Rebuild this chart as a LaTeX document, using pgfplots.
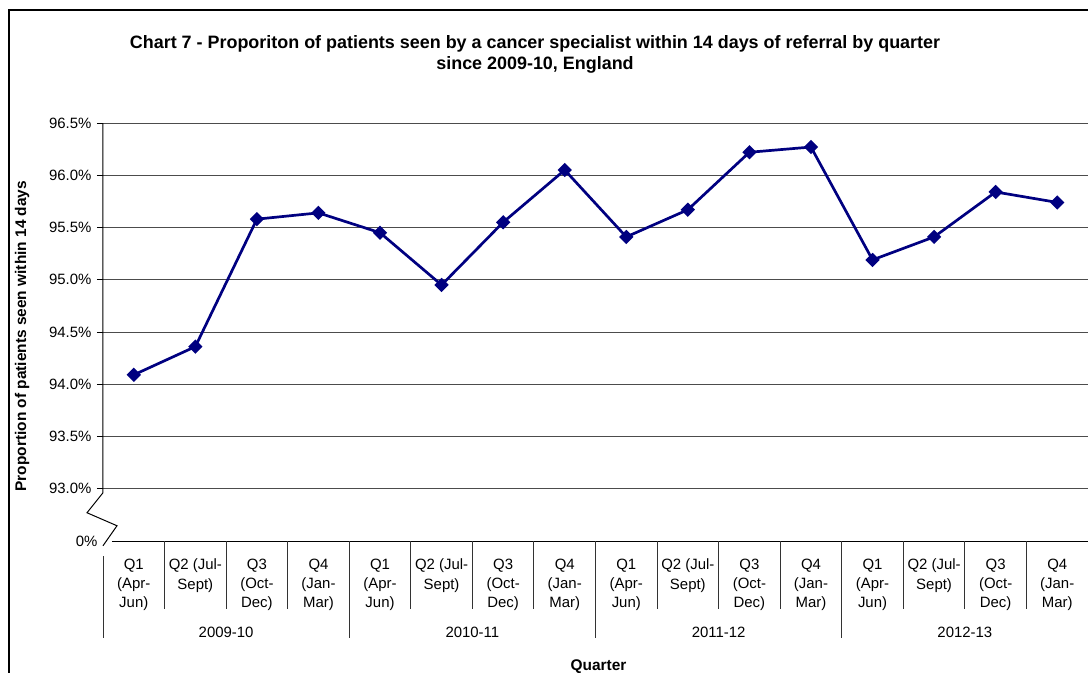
\documentclass[border=0pt]{standalone}
\usepackage{pgfplots}
\pgfplotsset{compat=1.18}
\usepackage{fontspec}
\setmainfont{Liberation Sans}
\definecolor{navy}{RGB}{0,0,128}
\begin{document}
\begin{tikzpicture}
\useasboundingbox (-103bp,-132bp) rectangle (985bp,541bp);
\draw[line width=1.5bp] (-94bp,-140bp) -- (-94bp,531bp) -- (990bp,531bp);
\begin{axis}[
 at={(0bp,0bp)}, anchor=south west,
 scale only axis, width=985bp, height=418bp,
 xmin=0.5, xmax=16.5, ymin=92.5, ymax=96.5,
 clip=false,
 axis line style={draw=none},
 xtick={1,...,16},
 xticklabels={{Q1\\(Apr-\\Jun)},{Q2 (Jul-\\Sept)},{Q3\\(Oct-\\Dec)},{Q4\\(Jan-\\Mar)},
              {Q1\\(Apr-\\Jun)},{Q2 (Jul-\\Sept)},{Q3\\(Oct-\\Dec)},{Q4\\(Jan-\\Mar)},
              {Q1\\(Apr-\\Jun)},{Q2 (Jul-\\Sept)},{Q3\\(Oct-\\Dec)},{Q4\\(Jan-\\Mar)},
              {Q1\\(Apr-\\Jun)},{Q2 (Jul-\\Sept)},{Q3\\(Oct-\\Dec)},{Q4\\(Jan-\\Mar)}},
 xtick style={draw=none},
 xticklabel style={align=center, font=\fontsize{15}{19.3}\selectfont, anchor=north, yshift=-8.5bp},
 ytick={93,93.5,94,94.5,95,95.5,96,96.5},
 yticklabels={93.0\%,93.5\%,94.0\%,94.5\%,95.0\%,95.5\%,96.0\%,96.5\%},
 extra y ticks={92.5}, extra y tick labels={0\%},
 extra y tick style={major tick length=0pt, grid=none},
 yticklabel style={font=\fontsize{15}{17}\selectfont, xshift=-2bp},
 ytick style={black, line width=0.8bp},
 tick align=outside, major tick length=6bp,
 ymajorgrids, grid style={black!70, line width=0.8bp},
 ylabel={Proportion of patients seen within 14 days},
 ylabel style={font=\fontsize{15.5}{17}\selectfont\bfseries, at={(axis description cs:-0.0822,0.49)}, anchor=center},
 xlabel={Quarter},
 xlabel style={font=\fontsize{15.5}{17}\selectfont\bfseries, at={(axis description cs:0.503,0)}, anchor=center, yshift=-126bp},
]
\addplot[navy, line width=2.7bp, mark=square*, mark size=3.7bp, mark options={rotate=45, solid, fill=navy}] coordinates {
(1,94.09) (2,94.36) (3,95.58) (4,95.64) (5,95.45) (6,94.95) (7,95.55) (8,96.05)
(9,95.41) (10,95.67) (11,96.22) (12,96.27) (13,95.19) (14,95.41) (15,95.84) (16,95.74)};
\draw[black, line width=1bp] (axis cs:0.5,96.5) -- (axis cs:0.5,93) -- ++(0bp,-4bp) -- ++(-16bp,-20bp) -- ++(30bp,-13bp) -- ++(-14bp,-20bp);
\draw[black, line width=1bp] ([xshift=9bp]axis cs:0.5,92.5) -- (axis cs:16.5,92.5);
\pgfplotsinvokeforeach{1.5,2.5,3.5,5.5,6.5,7.5,9.5,10.5,11.5,13.5,14.5,15.5}{\draw[black!80, line width=0.9bp] (axis cs:#1,92.5) -- ([yshift=-68bp]axis cs:#1,92.5);}
\pgfplotsinvokeforeach{4.5,8.5,12.5,16.5}{\draw[black!80, line width=0.9bp] (axis cs:#1,92.5) -- ([yshift=-97bp]axis cs:#1,92.5);}
\draw[black!80, line width=0.9bp] ([yshift=-15bp]axis cs:0.5,92.5) -- ([yshift=-97bp]axis cs:0.5,92.5);
\node[font=\fontsize{15}{17}\selectfont, yshift=-91bp] at (axis cs:2.5,92.5) {2009-10};
\node[font=\fontsize{15}{17}\selectfont, yshift=-91bp] at (axis cs:6.5,92.5) {2010-11};
\node[font=\fontsize{15}{17}\selectfont, yshift=-91bp] at (axis cs:10.5,92.5) {2011-12};
\node[font=\fontsize{15}{17}\selectfont, yshift=-91bp] at (axis cs:14.5,92.5) {2012-13};
\node[align=center, font=\fontsize{18}{21}\selectfont\bfseries] at (axis description cs:0.4386,1.1640) {Chart 7 - Proporiton of patients seen by a cancer specialist within 14 days of referral by quarter\\since 2009-10, England};
\end{axis}
\end{tikzpicture}
\end{document}
